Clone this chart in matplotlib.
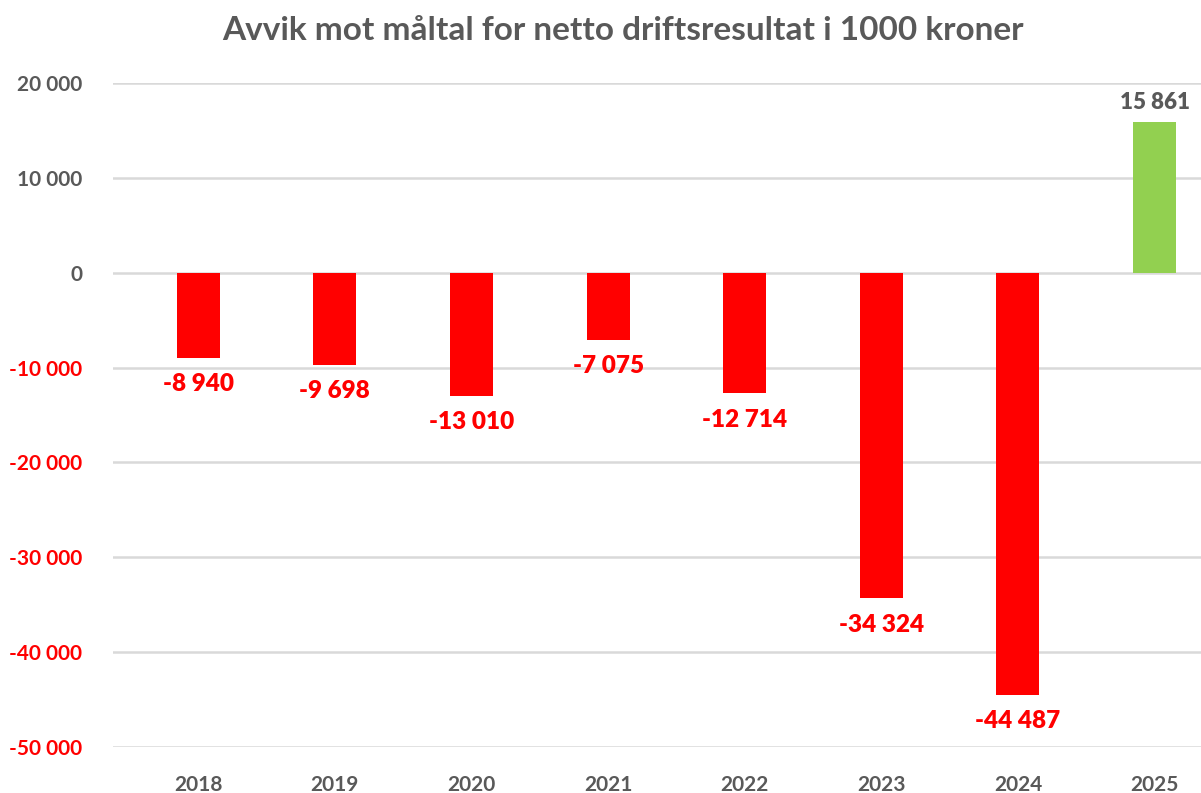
import matplotlib
matplotlib.use("Agg")
import matplotlib.pyplot as plt
import numpy as np

plt.rcParams["font.family"] = ["Lato", "DejaVu Sans"]

years = ["2018", "2019", "2020", "2021", "2022", "2023", "2024", "2025"]
values = [-8940, -9698, -13010, -7075, -12714, -34324, -44487, 15861]
yticks = [20000, 10000, 0, -10000, -20000, -30000, -40000, -50000]

GREY = "#595959"
RED = "#FF0000"
GREEN = "#92D050"


def fmt(v):
    s = f"{abs(v):,}".replace(",", " ")
    return ("-" if v < 0 else "") + s


fig = plt.figure(figsize=(12.01, 7.93), dpi=100)
ax = fig.add_axes([113 / 1201, 1 - 747 / 793, (1201 - 113) / 1201, (747 - 83) / 793])

x = np.arange(len(years))
colors = [RED if v < 0 else GREEN for v in values]
ax.bar(x, values, width=0.315, color=colors, zorder=3)

for xi, v in zip(x, values):
    if v < 0:
        ax.annotate(fmt(v), (xi, v), xytext=(0, -11), textcoords="offset points",
                    ha="center", va="top", color=RED, fontsize=17.5, fontweight="heavy")
    else:
        ax.annotate(fmt(v), (xi, v), xytext=(0, 7), textcoords="offset points",
                    ha="center", va="bottom", color=GREY, fontsize=16, fontweight="heavy")

ax.set_ylim(-50000, 20000)
ax.set_xlim(-0.624, 7.34)
ax.set_yticks(yticks)
ax.set_yticklabels([fmt(t) for t in yticks], fontsize=15, fontweight="bold")
for lbl, t in zip(ax.get_yticklabels(), yticks):
    lbl.set_color(RED if t < 0 else GREY)
ax.set_xticks(x)
ax.set_xticklabels(years, fontsize=15, fontweight="bold", color=GREY)
ax.tick_params(length=0)
ax.tick_params(axis="y", pad=22)
ax.tick_params(axis="x", pad=20)
ax.grid(True, axis="y", color="#D9D9D9", linewidth=1.8, zorder=0)
for s in ax.spines.values():
    s.set_visible(False)

fig.text(623 / 1201, 1 - 30 / 793, "Avvik mot måltal for netto driftsresultat i 1000 kroner",
         ha="center", va="center", fontsize=24, fontweight="bold", color=GREY)

fig.savefig("out.png", dpi=100)
